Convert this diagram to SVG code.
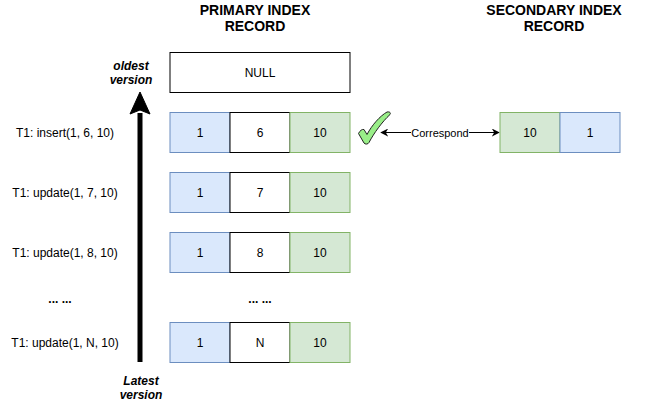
<svg xmlns="http://www.w3.org/2000/svg" width="660" height="402" viewBox="0 0 660 402">
<defs>
<style>
text{font-family:"Liberation Sans",Arial,sans-serif;fill:#000;text-anchor:middle;}
.h{font-size:14px;font-weight:bold;}
.it{font-size:12px;font-weight:bold;font-style:italic;}
.l{font-size:12px;}
.c{font-size:12px;}
.cs{font-size:11px;}
.w{fill:#fff;stroke:#000;stroke-width:1;}
.b{fill:#dae8fc;stroke:#6c8ebf;stroke-width:1;}
.g{fill:#d5e8d4;stroke:#82b366;stroke-width:1;}
</style>
<marker id="ah" viewBox="0 0 10 10" refX="9" refY="5" markerWidth="8" markerHeight="8" markerUnits="userSpaceOnUse" orient="auto-start-reverse">
<path d="M0,0 L10,5 L0,10 L3,5 Z" fill="#000"/>
</marker>
</defs>
<rect width="660" height="402" fill="#fff"/>
<g id="headers">
<text class="h" x="255" y="15">PRIMARY INDEX</text>
<text class="h" x="255" y="31">RECORD</text>
<text class="h" x="554" y="15">SECONDARY INDEX</text>
<text class="h" x="554" y="31">RECORD</text>
</g>
<g id="connectors">
<path d="M140,362 L140,113" stroke="#000" stroke-width="5" fill="none"/>
<path d="M140,92 L150,114 L140,110 L130,114 Z" fill="#000" stroke="#000" stroke-width="1"/>
<line x1="381" y1="132.5" x2="499" y2="132.5" stroke="#000" stroke-width="1" marker-start="url(#ah)" marker-end="url(#ah)"/>
<rect x="411" y="126" width="58" height="13" fill="#fff"/>
<text class="cs" x="440" y="136.5">Correspond</text>
</g>
<g id="oldest-label"><text class="it" x="131" y="70">oldest</text><text class="it" x="131" y="84">version</text></g>
<g id="latest-label"><text class="it" x="141" y="385">Latest</text><text class="it" x="141" y="399">version</text></g>
<g id="null-record"><rect class="w" x="170" y="52.5" width="180" height="40"/><text class="c" x="260" y="76.5">NULL</text></g>
<g id="row-insert">
<text class="l" x="65" y="136.5">T1: insert(1, 6, 10)</text>
<rect class="b" x="170" y="112.5" width="60" height="40"/><text class="c" x="200" y="136.5">1</text>
<rect class="w" x="230" y="112.5" width="60" height="40"/><text class="c" x="260" y="136.5">6</text>
<rect class="g" x="290" y="112.5" width="60" height="40"/><text class="c" x="320" y="136.5">10</text>
</g>
<g id="row-update7">
<text class="l" x="65" y="196.5">T1: update(1, 7, 10)</text>
<rect class="b" x="170" y="172.5" width="60" height="40"/><text class="c" x="200" y="196.5">1</text>
<rect class="w" x="230" y="172.5" width="60" height="40"/><text class="c" x="260" y="196.5">7</text>
<rect class="g" x="290" y="172.5" width="60" height="40"/><text class="c" x="320" y="196.5">10</text>
</g>
<g id="row-update8">
<text class="l" x="65" y="256.5">T1: update(1, 8, 10)</text>
<rect class="b" x="170" y="232.5" width="60" height="40"/><text class="c" x="200" y="256.5">1</text>
<rect class="w" x="230" y="232.5" width="60" height="40"/><text class="c" x="260" y="256.5">8</text>
<rect class="g" x="290" y="232.5" width="60" height="40"/><text class="c" x="320" y="256.5">10</text>
</g>
<g id="dots">
<text class="h" x="60" y="303" style="font-size:12px">... ...</text>
<text class="h" x="260" y="303" style="font-size:12px">... ...</text>
</g>
<g id="row-updateN">
<text class="l" x="65" y="346.5">T1: update(1, N, 10)</text>
<rect class="b" x="170" y="322.5" width="60" height="40"/><text class="c" x="200" y="346.5">1</text>
<rect class="w" x="230" y="322.5" width="60" height="40"/><text class="c" x="260" y="346.5">N</text>
<rect class="g" x="290" y="322.5" width="60" height="40"/><text class="c" x="320" y="346.5">10</text>
</g>
<g id="checkmark">
<path d="M358.5,133.5 C360,130.5 362,129 364,129.5 L367,134.5 C372,125 380,116 387,112 C390,111.5 391,113 390,114.5 C382,122 374,133 369,142.5 C368,144.5 365,144.5 364,143 Z" fill="#99ee88" stroke="#222" stroke-width="1"/>
</g>
<g id="secondary-record">
<rect class="g" x="500" y="112.5" width="60" height="40"/><text class="c" x="530" y="136.5">10</text>
<rect class="b" x="560" y="112.5" width="60" height="40"/><text class="c" x="590" y="136.5">1</text>
</g>
</svg>
